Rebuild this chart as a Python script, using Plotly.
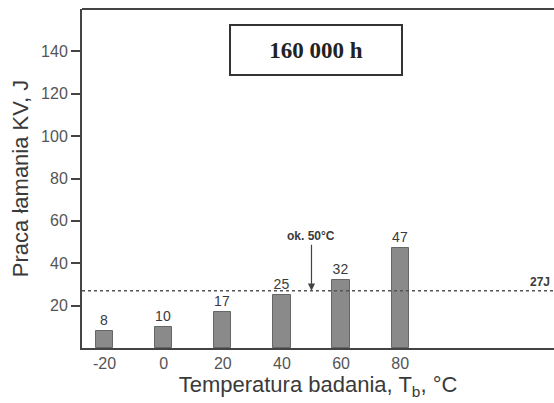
import plotly.graph_objects as go

# Impact energy KV at each test temperature after 160 000 h
temperatures = [-20, 0, 20, 40, 60, 80]
tick_labels = ["-20", "0", "20", "40", "60", "80"]
energy_kv = [8, 10, 17, 25, 32, 47]
threshold_kv = 27
transition_temp = 50

axis_color = "#444444"
text_color = "#3a3a3a"
tick_color = "#555555"
sans = "Liberation Sans, Arial"

fig = go.Figure()

fig.add_trace(go.Bar(
    x=temperatures, y=energy_kv, width=5.8,
    marker=dict(color="#8a8a8a", line=dict(color="#666666", width=1)),
    text=[str(v) for v in energy_kv], textposition="outside",
    textfont=dict(family=sans, size=14, color=text_color),
    cliponaxis=False, showlegend=False,
))

# 27 J criterion line
fig.add_hline(y=threshold_kv, line=dict(color="#555555", width=1.5, dash="dot"))

# top frame line
fig.add_shape(type="line", xref="paper", yref="paper", x0=0, x1=1, y0=1, y1=1,
              line=dict(color=axis_color, width=2))

fig.add_annotation(
    x=1, xref="paper", y=threshold_kv, yref="y", text="<b>27J</b>", showarrow=False,
    xanchor="right", yanchor="bottom", xshift=-2,
    font=dict(family=sans, size=12, color=text_color),
)

# Arrow marking the transition temperature
fig.add_annotation(
    x=transition_temp, y=threshold_kv, xref="x", yref="y", text="<b>ok. 50°C</b>",
    showarrow=True, arrowhead=2, arrowsize=1.2, arrowwidth=1.2, arrowcolor="#444444",
    ax=0, ay=-46, yanchor="bottom",
    font=dict(family=sans, size=12, color=text_color),
)

# Boxed title
fig.add_annotation(
    x=0.496, y=0.956, xref="paper", yref="paper", xanchor="center", yanchor="top",
    text="<b>160 000 h</b>", showarrow=False,
    font=dict(family="Liberation Serif, Times New Roman", size=23, color="#222222"),
    bordercolor="#333333", borderwidth=2, borderpad=10,
    width=150, height=28, bgcolor="white",
)

fig.update_layout(
    width=554, height=403,
    margin=dict(l=82, r=0, t=9, b=55),
    paper_bgcolor="white", plot_bgcolor="white", bargap=0,
    xaxis=dict(
        range=[-27.6, 132], tickvals=temperatures, ticktext=tick_labels,
        showline=True, linecolor=axis_color, linewidth=2,
        showgrid=False, zeroline=False, ticks="",
        tickfont=dict(family=sans, size=16, color=tick_color),
        title=dict(text="Temperatura badania, T<sub>b</sub>, °C", standoff=4,
                   font=dict(family=sans, size=22, color=text_color)),
    ),
    yaxis=dict(
        range=[0, 160], tickvals=[20, 40, 60, 80, 100, 120, 140],
        showline=True, linecolor=axis_color, linewidth=2,
        showgrid=False, zeroline=False,
        ticks="outside", ticklen=9, tickwidth=2, tickcolor=axis_color,
        tickfont=dict(family=sans, size=16, color=tick_color),
        title=dict(text="Praca łamania KV, J", standoff=6,
                   font=dict(family=sans, size=22, color=text_color)),
    ),
)

fig.write_html("out.html")
